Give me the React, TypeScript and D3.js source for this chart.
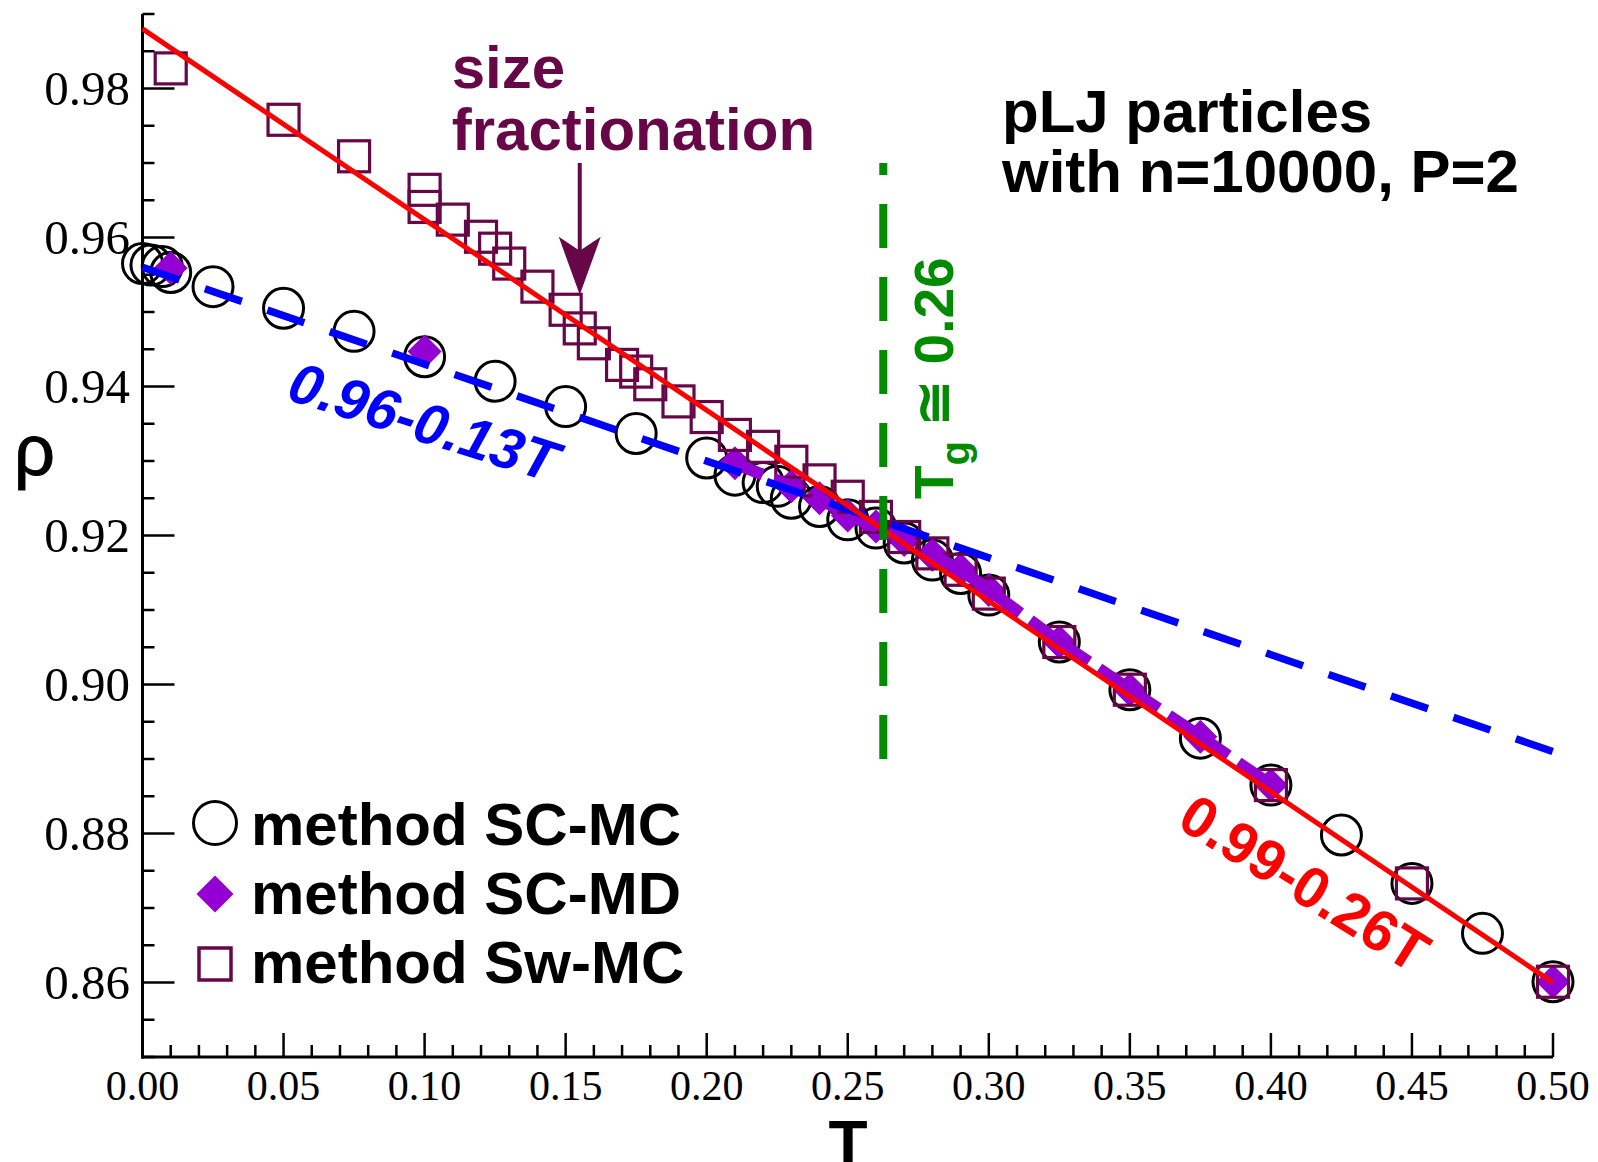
import React from 'react';
import * as d3 from 'd3';

// ---- data ----
const scmcT = [0, 0.003, 0.007, 0.01, 0.025, 0.05, 0.075, 0.1, 0.125, 0.15, 0.175, 0.2, 0.21, 0.22, 0.225, 0.23, 0.24, 0.25, 0.26, 0.27, 0.28, 0.29, 0.3, 0.325, 0.35, 0.375, 0.4, 0.425, 0.45, 0.475, 0.5];
const scmcRho = [0.9565, 0.9563, 0.9561, 0.9553, 0.9534, 0.9505, 0.9474, 0.944, 0.9407, 0.9373, 0.9337, 0.9304, 0.9281, 0.9271, 0.9266, 0.925, 0.9239, 0.9221, 0.921, 0.919, 0.9167, 0.9149, 0.912, 0.9057, 0.8993, 0.8928, 0.8865, 0.8798, 0.8733, 0.8666, 0.8601];

const scmdT = [0.01, 0.1, 0.21, 0.23, 0.24, 0.25, 0.26, 0.27, 0.28, 0.29, 0.3, 0.325, 0.35, 0.375, 0.4, 0.5];
const scmdRho = [0.9559, 0.9447, 0.9297, 0.9266, 0.925, 0.9227, 0.9212, 0.9194, 0.9174, 0.9154, 0.9127, 0.9057, 0.8993, 0.893, 0.8865, 0.8601];
const scmdLineFrom = 0.21;
const scmdLineTo = 0.4;

const swmcT = [0.01, 0.05, 0.075, 0.1, 0.1, 0.11, 0.12, 0.125, 0.13, 0.14, 0.15, 0.155, 0.16, 0.17, 0.175, 0.18, 0.19, 0.2, 0.21, 0.22, 0.23, 0.24, 0.25, 0.26, 0.27, 0.28, 0.29, 0.3, 0.325, 0.35, 0.4, 0.45, 0.5];
const swmcRho = [0.9827, 0.9758, 0.9709, 0.9664, 0.9641, 0.9624, 0.9601, 0.9585, 0.9565, 0.9534, 0.9503, 0.9478, 0.9458, 0.9429, 0.942, 0.9403, 0.938, 0.9359, 0.9335, 0.9319, 0.9299, 0.9274, 0.9252, 0.9225, 0.9198, 0.9176, 0.9154, 0.9122, 0.9057, 0.8993, 0.8865, 0.8733, 0.8601];

// fits: rho = a - b*T
const redFit = [0.988, 0.256];
const blueFit = [0.956, 0.13];
const fitRange = [0, 0.5];
const tgValue = 0.2626;
const tgRange = [0.89, 0.97];

const xMajor = [0, 0.05, 0.1, 0.15, 0.2, 0.25, 0.3, 0.35, 0.4, 0.45, 0.5];
const xLabels = ['0.00', '0.05', '0.10', '0.15', '0.20', '0.25', '0.30', '0.35', '0.40', '0.45', '0.50'];
const yMajor = [0.86, 0.88, 0.9, 0.92, 0.94, 0.96, 0.98];
const yLabels = ['0.86', '0.88', '0.90', '0.92', '0.94', '0.96', '0.98'];

const legendNames = ['method SC-MC', 'method SC-MD', 'method Sw-MC'];

const BLACK = '#000000';
const VIOLET = '#9400d3';
const MAROON = '#670748';
const RED = '#ff0000';
const BLUE = '#0000ff';
const GREEN = '#008b00';

const SANS = '"Liberation Sans", Arial, Helvetica, sans-serif';
const SERIF = '"Liberation Serif", "Times New Roman", serif';

export default function App() {
  const x = d3.scaleLinear().domain([0, 0.5]).range([142.5, 1553]);
  const y = d3.scaleLinear().domain([0.85, 0.99]).range([1057, 14]);

  const xMinor = d3.range(0, 0.5001, 0.01).filter((v) => !xMajor.some((m) => Math.abs(m - v) < 1e-6));
  const yMinor = d3.range(0.85, 0.9901, 0.005).filter((v) => !yMajor.some((m) => Math.abs(m - v) < 1e-6));

  const line = d3.line<[number, number]>().x((d) => x(d[0])).y((d) => y(d[1]));
  const fitPts = (f: number[]) => fitRange.map((t) => [t, f[0] - f[1] * t] as [number, number]);
  const scmdLinePts = scmdT
    .map((t, i) => [t, scmdRho[i]] as [number, number])
    .filter((d) => d[0] >= scmdLineFrom - 1e-9 && d[0] <= scmdLineTo + 1e-9);

  const R = 20;
  const DQ = 17;
  const SQ = 15.5;
  const diamond = (r: number) => `M0,${-r}L${r},0L0,${r}L${-r},0Z`;

  // arrow annotation
  const ax = x(0.155);
  const aTop = y(0.97);
  const aTip = y(0.9523);

  return (
    <svg width={1598} height={1162} style={{ position: 'absolute', left: 0, top: 0, background: '#fff' }}>
      <rect x={0} y={0} width={1598} height={1162} fill="#fff" />

      {/* axes */}
      <line x1={x(0)} x2={x(0)} y1={y(0.99)} y2={y(0.85) + 1.5} stroke="#000" strokeWidth={3} />
      <line x1={x(0) - 1.5} x2={x(0.5)} y1={y(0.85)} y2={y(0.85)} stroke="#000" strokeWidth={3} />
      {yMajor.map((v) => (
        <line key={'ym' + v} x1={x(0)} x2={x(0) + 32} y1={y(v)} y2={y(v)} stroke="#000" strokeWidth={2.5} />
      ))}
      {yMinor.map((v) => (
        <line key={'yn' + v} x1={x(0)} x2={x(0) + 12} y1={y(v)} y2={y(v)} stroke="#000" strokeWidth={2.5} />
      ))}
      {xMajor.map((v) => (
        <line key={'xm' + v} x1={x(v)} x2={x(v)} y1={y(0.85)} y2={y(0.85) - 24} stroke="#000" strokeWidth={2.5} />
      ))}
      {xMinor.map((v) => (
        <line key={'xn' + v} x1={x(v)} x2={x(v)} y1={y(0.85)} y2={y(0.85) - 12} stroke="#000" strokeWidth={2.5} />
      ))}
      {yMajor.map((v, i) => (
        <text key={'yl' + v} x={130} y={y(v) + 16.5} textAnchor="end" fontFamily={SERIF} fontSize={49} fill="#000">
          {yLabels[i]}
        </text>
      ))}
      {xMajor.map((v, i) => (
        <text key={'xl' + v} x={x(v)} y={1100} textAnchor="middle" fontFamily={SERIF} fontSize={42} fill="#000">
          {xLabels[i]}
        </text>
      ))}
      <text x={14} y={475} fontFamily={SANS} fontSize={72} fill="#000" stroke="#000" strokeWidth={1}>ρ</text>
      <text x={848} y={1166} textAnchor="middle" fontFamily={SANS} fontWeight="bold" fontSize={64} fill="#000">T</text>

      {/* SC-MC circles */}
      {scmcT.map((t, i) => (
        <circle key={'c' + i} cx={x(t)} cy={y(scmcRho[i])} r={R} fill="none" stroke={BLACK} strokeWidth={3} />
      ))}
      {/* SC-MD diamonds */}
      {scmdT.map((t, i) => (
        <path key={'d' + i} d={diamond(DQ)} transform={`translate(${x(t)},${y(scmdRho[i])})`} fill={VIOLET} />
      ))}
      {/* Sw-MC squares */}
      {swmcT.map((t, i) => (
        <rect key={'s' + i} x={x(t) - SQ} y={y(swmcRho[i]) - SQ} width={2 * SQ} height={2 * SQ} fill="none" stroke={MAROON} strokeWidth={3.2} />
      ))}

      {/* SC-MD dashed line */}
      <path d={line(scmdLinePts) || ''} fill="none" stroke={VIOLET} strokeWidth={12} strokeDasharray="30 12" />

      {/* fits */}
      <path d={line(fitPts(blueFit)) || ''} fill="none" stroke={BLUE} strokeWidth={7.5} strokeDasharray="39 27" />
      <path d={line(fitPts(redFit)) || ''} fill="none" stroke={RED} strokeWidth={5} />

      {/* Tg line */}
      <line x1={x(tgValue)} x2={x(tgValue)} y1={y(tgRange[0])} y2={y(tgRange[1])} stroke={GREEN} strokeWidth={8} strokeDasharray="44 29" />

      {/* arrow */}
      <line x1={ax} x2={ax} y1={aTop} y2={aTip - 40} stroke={MAROON} strokeWidth={4} />
      <path d={`M${ax},${aTip}L${ax - 21},${aTip - 58}L${ax},${aTip - 44}L${ax + 21},${aTip - 58}Z`} fill={MAROON} />
      <text fontFamily={SANS} fontWeight="bold" fontSize={60} fill={MAROON}>
        <tspan x={451.7} y={88}>size</tspan>
        <tspan x={451.7} y={150}>fractionation</tspan>
      </text>

      {/* top-right note */}
      <text fontFamily={SANS} fontWeight="bold" fontSize={60} fill="#000">
        <tspan x={1002} y={132}>pLJ particles</tspan>
        <tspan x={1002} y={191.5}>with n=10000, P=2</tspan>
      </text>

      {/* fit labels */}
      <text transform="translate(285,399) rotate(17.5)" fontFamily={SANS} fontWeight="bold" fontStyle="italic" fontSize={57.5} fill={BLUE}>
        0.96-0.13T
      </text>
      <text transform="translate(1175,826) rotate(32)" fontFamily={SANS} fontWeight="bold" fontSize={58} fill={RED}>
        0.99-0.26T
      </text>
      <text transform="translate(953,499) rotate(-90)" fontFamily={SANS} fontWeight="bold" fontSize={55} fill={GREEN}>
        T<tspan fontSize={40} dy={16}>g</tspan>
        <tspan dy={-16}> ≅ 0.26</tspan>
      </text>

      {/* legend */}
      <circle cx={215} cy={823} r={21.5} fill="none" stroke={BLACK} strokeWidth={3} />
      <path d={diamond(18.5)} transform="translate(215,894)" fill={VIOLET} />
      <rect x={215 - 16} y={964 - 16} width={32} height={32} fill="none" stroke={MAROON} strokeWidth={3.5} />
      {legendNames.map((n, i) => (
        <text key={n} x={251} y={845 + i * 69} fontFamily={SANS} fontWeight="bold" fontSize={60} fill="#000">
          {n}
        </text>
      ))}
    </svg>
  );
}
